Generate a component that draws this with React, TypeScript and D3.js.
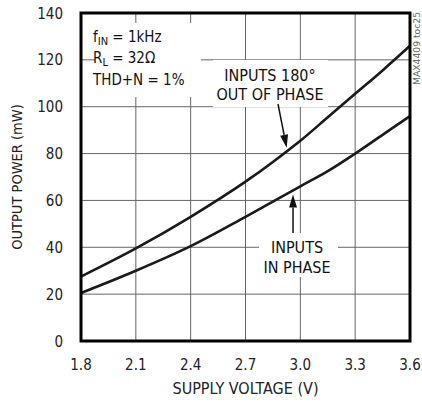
import * as React from 'react';
import * as d3 from 'd3';

const W = 422;
const H = 402;
const margin = { left: 81, right: 12, top: 13, bottom: 61 };

const xTicks = [1.8, 2.1, 2.4, 2.7, 3.0, 3.3, 3.6];
const yTicks = [0, 20, 40, 60, 80, 100, 120, 140];

const voltage = [1.8, 2.1, 2.4, 2.7, 3.0, 3.15, 3.3, 3.45, 3.6];
const outOfPhase = [27.5, 39.5, 53, 68, 85.5, 95.5, 105.5, 115.5, 126];
const inPhase = [20.5, 30, 40.5, 53, 66, 72.5, 80, 88, 96];

const FONT = '"Liberation Sans Narrow", "DejaVu Sans Condensed", Arial, sans-serif';

const Arrow = ({ x1, y1, x2, y2 }: { x1: number; y1: number; x2: number; y2: number }) => {
    const a = Math.atan2(y2 - y1, x2 - x1);
    const len = 13, half = 4;
    const bx = x2 - len * Math.cos(a), by = y2 - len * Math.sin(a);
    const px = -Math.sin(a) * half, py = Math.cos(a) * half;
    return (
        <g>
            <line x1={x1} y1={y1} x2={bx} y2={by} stroke="#111" strokeWidth={1.5} />
            <path d={`M${x2},${y2}L${bx + px},${by + py}L${bx - px},${by - py}Z`} fill="#111" />
        </g>
    );
};

export default function App() {
    const x = d3.scaleLinear().domain([1.8, 3.6]).range([margin.left, W - margin.right]);
    const y = d3.scaleLinear().domain([0, 140]).range([H - margin.bottom, margin.top]);

    const line = d3.line<number>()
        .x((_, i) => x(voltage[i]))
        .y(d => y(d))
        .curve(d3.curveCatmullRom.alpha(0.5));

    const x0 = x(1.8), x1 = x(3.6), y0 = y(0), y1 = y(140);

    return (
        <svg width={W} height={H} style={{ position: 'absolute', left: 0, top: 0, background: '#fff' }}
            fontFamily={FONT}>
            {/* grid */}
            {xTicks.slice(1, -1).map(t => (
                <line key={'gx' + t} x1={x(t)} x2={x(t)} y1={y1} y2={y0} stroke="#666" strokeWidth={1} />
            ))}
            {yTicks.slice(1, -1).map(t => (
                <line key={'gy' + t} x1={x0} x2={x1} y1={y(t)} y2={y(t)} stroke="#666" strokeWidth={1} />
            ))}

            {/* white boxes behind labels */}
            <rect x={95} y={23} width={106} height={74} fill="#fff" />
            <rect x={213} y={60} width={115} height={47} fill="#fff" />
            <rect x={259} y={233} width={79} height={44} fill="#fff" />

            {/* curves */}
            <path d={line(outOfPhase) ?? ''} fill="none" stroke="#1a1a1a" strokeWidth={2.6} />
            <path d={line(inPhase) ?? ''} fill="none" stroke="#1a1a1a" strokeWidth={2.6} />

            {/* frame */}
            <rect x={x0} y={y1} width={x1 - x0} height={y0 - y1} fill="none" stroke="#000" strokeWidth={3} />

            {/* tick labels */}
            {yTicks.map(t => (
                <text key={'ly' + t} x={63} y={y(t) + 5.5} textAnchor="end" fontSize={15} fill="#222">{t}</text>
            ))}
            {xTicks.map(t => (
                <text key={'lx' + t} x={x(t)} y={370} textAnchor="middle" fontSize={15} fill="#222">{t.toFixed(1)}</text>
            ))}

            {/* axis titles */}
            <text x={(x0 + x1) / 2} y={394} textAnchor="middle" fontSize={16} fill="#222">SUPPLY VOLTAGE (V)</text>
            <text transform={`translate(22,${(y0 + y1) / 2}) rotate(-90)`} textAnchor="middle" fontSize={14.5} fill="#222">
                OUTPUT POWER (mW)
            </text>

            {/* conditions */}
            <g fontSize={15} fill="#111">
                <text x={93} y={42}>f<tspan fontSize={11} dy={3}>IN</tspan><tspan dy={-3}> = 1kHz</tspan></text>
                <text x={93} y={63}>R<tspan fontSize={11} dy={3}>L</tspan><tspan dy={-3}> = 32Ω</tspan></text>
                <text x={93} y={85}>THD+N = 1%</text>
            </g>

            {/* annotations */}
            <g fontSize={16} fill="#111" textAnchor="middle">
                <text x={270} y={81}>INPUTS 180°</text>
                <text x={270} y={100}>OUT OF PHASE</text>
                <text x={297} y={253}>INPUTS</text>
                <text x={297} y={273}>IN PHASE</text>
            </g>
            <Arrow x1={278} y1={104} x2={x(2.925)} y2={y(82.5)} />
            <Arrow x1={x(2.96)} y1={233} x2={x(2.96)} y2={y(62.5)} />

            <text transform="translate(420,85) rotate(-90)" fontSize={9} fill="#666"
                textLength={73} lengthAdjust="spacingAndGlyphs">MAX4409 toc25</text>
        </svg>
    );
}
